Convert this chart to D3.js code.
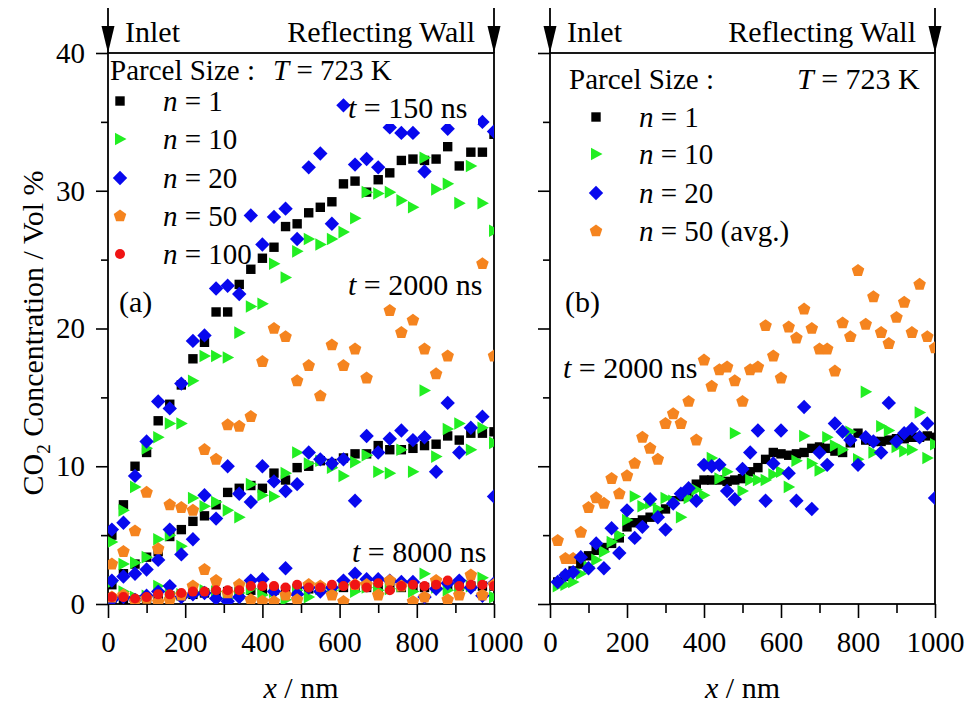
<!DOCTYPE html>
<html><head><meta charset="utf-8">
<script src="https://cdn.jsdelivr.net/npm/d3@7"></script>
<style>
body{margin:0;background:#fff}
text{font-family:"Liberation Serif","Times New Roman",serif;fill:#000}
</style>
</head><body>
<svg id="c" width="968" height="708"></svg>
<script>
// ---------- DATA ----------
const xA = [10,40,70,100,130,160,190,220,250,280,310,340,370,400,430,460,490,520,550,580,610,640,670,700,730,760,790,820,850,880,910,940,970,1000];
const xB = [20,40,60,80,100,120,140,160,180,200,220,240,260,280,300,320,340,360,380,400,420,440,460,480,500,520,540,560,580,600,620,640,660,680,700,720,740,760,780,800,820,840,860,880,900,920,940,960,980,1000];

// panel (a), t = 150 ns
const a150_n1  = [5.0,7.2,10.0,11.0,13.3,14.5,15.9,17.8,19.0,21.2,21.2,23.2,24.3,25.1,25.9,27.4,27.6,28.4,28.8,29.2,30.5,30.7,29.9,30.8,31.3,32.2,32.3,32.2,32.3,33.2,31.8,32.8,32.8,34.1];
const a150_n10 = [4.5,6.8,8.5,11.3,12.1,13.1,13.1,16.2,18.0,18.0,17.9,19.7,21.6,21.8,24.7,23.7,25.6,26.5,26.1,26.5,27.0,28.0,29.9,29.8,29.9,29.3,28.8,32.4,30.1,30.5,29.1,31.8,29.1,27.1];
const a150_n20 = [5.4,5.9,9.3,11.8,14.7,14.2,16.0,19.1,19.5,22.9,23.1,22.5,28.2,26.1,28.1,28.7,26.5,31.7,32.7,27.6,36.2,31.9,32.3,31.7,34.6,34.2,34.2,31.4,null,34.5,null,null,35.0,34.3];
// panel (a), t = 2000 ns
const a2000_n1  = [1.4,2.2,2.9,3.4,3.8,4.9,5.4,6.0,6.4,7.2,8.1,8.4,8.6,8.4,9.5,9.0,9.9,10.0,10.4,10.2,10.6,10.9,10.9,11.5,11.2,11.2,11.3,11.5,11.6,12.2,11.9,12.4,12.4,12.5];
const a2000_n10 = [1.6,2.9,3.0,3.4,4.7,5.0,4.2,7.7,7.1,7.4,6.8,6.3,8.7,7.9,7.8,9.5,11.0,10.2,10.4,9.9,9.3,10.3,10.8,9.6,9.5,11.2,9.6,15.5,10.7,12.7,13.1,11.2,12.8,11.7];
const a2000_n20 = [1.7,2.0,2.2,2.5,3.2,5.4,3.6,4.7,7.9,6.2,10.0,8.0,7.4,10.0,8.9,8.2,8.7,11.0,10.5,10.2,10.5,7.5,12.2,11.0,12.0,12.6,11.9,12.1,9.6,14.6,11.0,12.8,13.6,7.8];
const a2000_n50 = [2.9,3.8,5.3,8.1,4.0,7.2,7.0,6.8,11.2,10.5,13.0,12.9,13.6,17.6,20.0,19.4,16.2,17.3,15.1,18.8,17.3,18.5,16.4,null,21.3,19.7,20.6,18.5,16.7,18.0,null,null,24.7,18.0];
// panel (a), t = 8000 ns
const a8000_n1   = [0.2,0.3,0.3,0.4,0.5,0.6,0.6,0.7,0.8,0.8,0.9,0.9,1.0,1.0,1.0,1.0,1.1,1.1,1.1,1.1,1.2,1.2,1.2,1.2,1.2,1.2,1.2,1.2,1.3,1.3,1.3,1.3,1.3,1.3];
const a8000_n10  = [0.3,0.9,0.5,0.6,1.3,0.8,0.7,0.9,1.0,0.9,0.4,0.8,1.1,0.65,0.9,0.3,1.0,0.5,1.1,1.0,1.4,0.9,1.2,1.0,1.1,1.3,0.9,2.2,1.2,1.0,1.1,1.3,1.9,0.5];
const a8000_n20  = [0.3,0.5,0.3,0.6,0.9,1.3,0.5,0.7,0.8,0.4,0.2,0.5,1.7,1.8,0.9,2.6,0.7,1.2,0.9,1.2,1.7,2.2,1.8,1.8,1.7,1.6,1.6,0.5,1.1,1.5,1.7,1.2,0.6,1.5];
const a8000_n50  = [0.5,0.65,0.2,0.4,0.15,0.3,0.65,1.3,2.5,1.7,0.8,1.4,0.3,0.2,0.17,0.65,0.3,1.4,1.3,0.65,0.17,1.4,1.4,0.65,1.7,1.3,0.17,0.5,1.7,0.3,0.65,2.1,0.65,1.4];
const a8000_n100 = [0.5,0.5,0.4,0.5,0.7,0.7,0.8,0.9,0.9,1.0,1.0,1.0,1.3,1.3,1.3,1.2,1.4,1.2,1.2,1.4,1.3,1.4,1.2,1.5,1.0,1.3,1.4,1.3,1.4,1.7,1.3,1.4,1.4,1.3];

// panel (b), t = 2000 ns
const b_n1  = [1.6,2.0,2.4,2.9,3.5,3.9,4.1,4.4,4.8,5.6,5.9,6.1,6.3,6.6,6.9,7.5,7.8,8.1,8.7,9.0,9.0,9.0,8.9,9.0,9.1,9.6,9.9,10.5,11.0,10.9,10.8,10.9,11.0,11.3,11.4,11.3,11.1,11.0,11.7,12.4,11.9,11.8,11.8,11.9,12.0,12.0,12.1,12.1,12.2,12.1];
const b_n10 = [1.3,1.4,1.6,2.2,2.7,3.2,3.8,4.5,5.0,6.1,7.8,7.1,7.3,6.9,7.7,7.5,6.3,7.7,8.3,7.9,10.6,9.1,9.6,12.4,8.2,9.0,9.0,9.0,9.4,9.6,8.5,10.4,12.2,10.2,9.7,12.1,11.5,11.2,12.5,10.5,15.4,11.0,12.9,12.6,11.4,11.1,11.2,13.9,10.6,11.6];
const b_n20 = [1.6,2.1,2.3,3.4,2.6,4.4,2.6,5.5,3.7,6.8,4.8,5.6,7.6,6.3,5.4,7.3,8.0,8.4,7.5,10.1,10.0,10.1,8.2,7.6,9.8,11.0,12.6,7.5,10.2,12.6,9.5,7.5,14.3,6.9,11.0,10.1,13.1,12.5,11.9,10.1,12.1,11.8,11.0,14.6,11.8,12.4,12.7,12.1,13.1,7.7];
const b_n50 = [4.6,3.3,3.3,5.2,7.0,7.7,7.3,9.1,8.0,9.3,10.2,12.1,11.3,10.5,13.1,13.8,13.1,14.7,11.9,17.7,15.8,17.0,17.2,16.2,14.7,17.0,17.2,20.2,18.0,16.4,20.1,19.3,21.4,20.0,18.5,18.5,16.9,20.4,19.4,24.2,20.3,22.3,19.7,18.9,20.8,21.9,19.7,23.2,19.4,18.6];

const yTicks = [0,10,20,30,40];
const yMinor = [5,15,25,35];
const xTicks = [0,200,400,600,800,1000];
const xMinor = [100,300,500,700,900];
const legendA = ["1","10","20","50","100"];
const legendB = ["1","10","20","50 (avg.)"];

// ---------- STYLE ----------
const COL = {n1:"#000000", n10:"#22ee22", n20:"#0808ee", n50:"#f5841f", n100:"#f01414"};
const SHAPE = {n1:"square", n10:"tri", n20:"diamond", n50:"pent", n100:"circle"};

function shapePath(t){
  if(t==="square"){const h=4.7;return `M${-h},${-h}H${h}V${h}H${-h}Z`;}
  if(t==="tri") return "M-5,-6.3L6.5,0L-5,6.3Z";
  if(t==="diamond") return "M0,-7.2L7.2,0L0,7.2L-7.2,0Z";
  if(t==="pent"){const r=6.6;let p=[];for(let k=0;k<5;k++){const a=-Math.PI/2+k*2*Math.PI/5;p.push([r*Math.cos(a),r*Math.sin(a)]);}return "M"+p.map(q=>q[0].toFixed(2)+","+q[1].toFixed(2)).join("L")+"Z";}
  return d3.symbol(d3.symbolCircle, Math.PI*25)();
}

const svg = d3.select("#c");
const y = d3.scaleLinear().domain([0,40]).range([604,53]);
const xa = d3.scaleLinear().domain([0,1000]).range([108,494]);
const xb = d3.scaleLinear().domain([0,1000]).range([550,935]);

const defs = svg.append("defs");
[["clipA",xa],["clipB",xb]].forEach(([id,x])=>{
  defs.append("clipPath").attr("id",id).append("rect")
    .attr("x",x(0)).attr("y",y(40)).attr("width",x(1000)-x(0)).attr("height",y(0)-y(40));
});

function plotSeries(g, x, xs, vals, key){
  const data = xs.map((v,i)=>({x:v,y:vals[i]})).filter(d=>d.y!==null);
  g.append("g").selectAll("path").data(data).join("path")
    .attr("d", shapePath(SHAPE[key]))
    .attr("fill", COL[key])
    .attr("transform", d=>`translate(${x(d.x)},${y(d.y)})`);
}

function txt(g, x, yy, parts, size, anchor){
  const t = g.append("text").attr("x",x).attr("y",yy).attr("font-size",size||30)
    .attr("text-anchor",anchor||"start");
  parts.forEach(p=>{
    const s = t.append("tspan").text(p[0]);
    if(p[1]) s.attr("font-style","italic");
  });
  return t;
}

function frame(x, withLabels){
  const g = svg.append("g");
  g.append("g").attr("transform",`translate(${x(0)},0)`)
    .call(d3.axisLeft(y).tickValues(yTicks).tickSize(12).tickSizeOuter(0).tickPadding(11)
      .tickFormat(withLabels? d3.format("d") : ""));
  g.append("g").attr("transform",`translate(${x(0)},0)`)
    .call(d3.axisLeft(y).tickValues(yMinor).tickSize(7).tickSizeOuter(0).tickFormat(""));
  g.append("g").attr("transform",`translate(0,${y(0)})`)
    .call(d3.axisBottom(x).tickValues(xTicks).tickSize(14).tickSizeOuter(0).tickPadding(13).tickFormat(d3.format("d")));
  g.append("g").attr("transform",`translate(0,${y(0)})`)
    .call(d3.axisBottom(x).tickValues(xMinor).tickSize(9).tickSizeOuter(0).tickFormat(""));
  g.selectAll(".domain").remove();
  g.selectAll(".tick line").attr("stroke","#000").attr("stroke-width",1.6);
  g.selectAll(".tick text").attr("font-size",29).attr("font-family",'"Liberation Serif",serif').attr("fill","#000");
  g.append("rect").attr("x",x(0)).attr("y",y(40)).attr("width",x(1000)-x(0)).attr("height",y(0)-y(40))
    .attr("fill","none").attr("stroke","#000").attr("stroke-width",1.8);
  [x(0),x(1000)].forEach(px=>{
    g.append("line").attr("x1",px).attr("x2",px).attr("y1",8).attr("y2",y(40)).attr("stroke","#000").attr("stroke-width",1.8);
    g.append("path").attr("d",`M${px-6.5},${26}L${px+6.5},${26}L${px},${y(40)}Z`).attr("fill","#000");
  });
  txt(g, x(0)+17, 42, [["Inlet",false]]);
  txt(g, x(1000)-19, 42, [["Reflecting Wall",false]], 30, "end");
  txt(g, (x(0)+x(1000))/2, 698, [["x",true],[" / nm",false]], 30, "middle");
  return g;
}

// ---------- PANEL A ----------
frame(xa, true);
const pA = svg.append("g").attr("clip-path","url(#clipA)");
plotSeries(pA, xa, xA, a8000_n1, "n1");
plotSeries(pA, xa, xA, a2000_n1, "n1");
plotSeries(pA, xa, xA, a150_n1, "n1");
plotSeries(pA, xa, xA, a8000_n10, "n10");
plotSeries(pA, xa, xA, a2000_n10, "n10");
plotSeries(pA, xa, xA, a150_n10, "n10");
plotSeries(pA, xa, xA, a8000_n20, "n20");
plotSeries(pA, xa, xA, a2000_n20, "n20");
plotSeries(pA, xa, xA, a150_n20, "n20");
plotSeries(pA, xa, xA, a2000_n50, "n50");
plotSeries(pA, xa, xA, a8000_n50, "n50");
plotSeries(pA, xa, xA, a8000_n100, "n100");

const tA = svg.append("g");
tA.append("rect").attr("x",352).attr("y",96).attr("width",126).attr("height",28).attr("fill","#fff");
txt(tA, 348, 118, [["t",true],[" = 150 ns",false]]);
txt(tA, 348, 295, [["t",true],[" = 2000 ns",false]]);
txt(tA, 352, 562, [["t",true],[" = 8000 ns",false]]);
txt(tA, 119, 312, [["(a)",false]]);
txt(tA, 110, 80, [["Parcel Size :",false]], 29);
txt(tA, 273, 80, [["T",true],[" = 723 K",false]], 29);
const keysA = ["n1","n10","n20","n50","n100"];
const rowsA = [101,139,178,216,254];
keysA.forEach((k,i)=>{
  tA.append("path").attr("d",shapePath(SHAPE[k])).attr("fill",COL[k]).attr("transform",`translate(120,${rowsA[i]})`);
  txt(tA, 163, rowsA[i]+10, [["n",true],[" = "+legendA[i],false]], 29);
});

// ---------- PANEL B ----------
frame(xb, false);
const pB = svg.append("g").attr("clip-path","url(#clipB)");
plotSeries(pB, xb, xB, b_n50, "n50");
plotSeries(pB, xb, xB, b_n1, "n1");
plotSeries(pB, xb, xB, b_n10, "n10");
plotSeries(pB, xb, xB, b_n20, "n20");

const tB = svg.append("g");
txt(tB, 569, 89, [["Parcel Size :",false]], 29);
txt(tB, 797, 89, [["T",true],[" = 723 K",false]]);
txt(tB, 565, 312, [["(b)",false]]);
txt(tB, 563, 378, [["t",true],[" = 2000 ns",false]]);
const keysB = ["n1","n10","n20","n50"];
const rowsB = [117,154,193,231];
keysB.forEach((k,i)=>{
  tB.append("path").attr("d",shapePath(SHAPE[k])).attr("fill",COL[k]).attr("transform",`translate(596,${rowsB[i]})`);
  txt(tB, 639, rowsB[i]+10, [["n",true],[" = "+legendB[i],false]], 29);
});

// ---------- Y TITLE ----------
const yt = svg.append("text").attr("transform","translate(43,333) rotate(-90)")
  .attr("text-anchor","middle").attr("font-size",30);
yt.append("tspan").text("CO");
yt.append("tspan").text("2").attr("font-size",19).attr("dy",7);
yt.append("tspan").text(" Concentration / Vol %").attr("dy",-7);
</script>
</body></html>
